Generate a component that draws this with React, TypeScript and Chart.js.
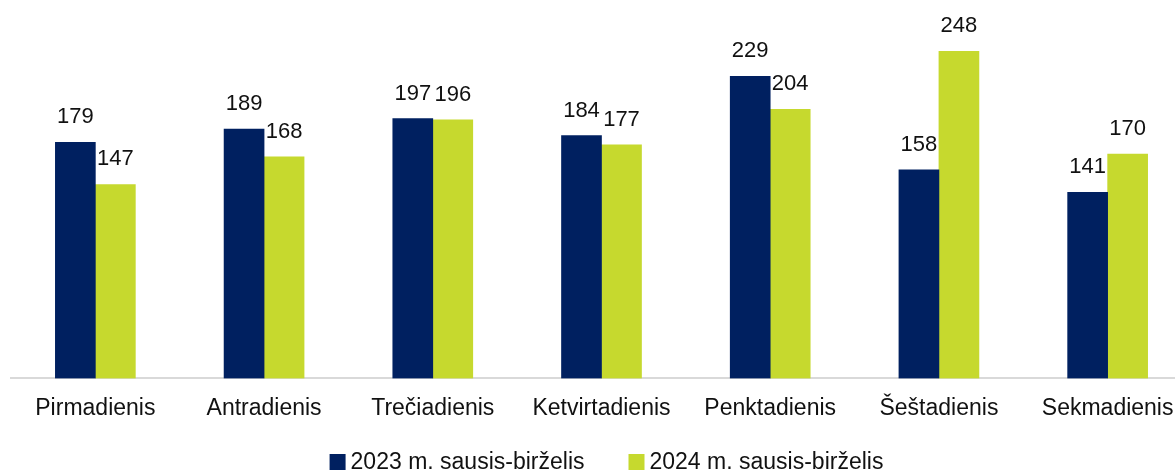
import React, { useEffect, useRef } from "react";
import { Chart, registerables } from "chart.js";

Chart.register(...registerables);

const categories = ["Pirmadienis", "Antradienis", "Trečiadienis", "Ketvirtadienis", "Penktadienis", "Šeštadienis", "Sekmadienis"];
const series2023 = [179, 189, 197, 184, 229, 158, 141];
const series2024 = [147, 168, 196, 177, 204, 248, 170];
const seriesNames = ["2023 m. sausis-birželis", "2024 m. sausis-birželis"];
const seriesColors = ["#002060", "#C6D92E"];

const FONT = "'Liberation Sans', Arial, sans-serif";

const valueLabels = {
  id: "valueLabels",
  afterDatasetsDraw(chart: any) {
    const ctx = chart.ctx;
    ctx.save();
    ctx.font = `22px ${FONT}`;
    ctx.fillStyle = "#111111";
    ctx.textAlign = "center";
    ctx.textBaseline = "alphabetic";
    chart.data.datasets.forEach((ds: any, di: number) => {
      const meta = chart.getDatasetMeta(di);
      meta.data.forEach((bar: any, i: number) => {
        ctx.fillText(String(ds.data[i]), bar.x, bar.y - 19);
      });
    });
    ctx.restore();
  },
};

const bottomLegend = {
  id: "bottomLegend",
  afterDraw(chart: any) {
    const ctx = chart.ctx;
    const box = 16;
    const gap = 5;
    const itemGap = 44;
    ctx.save();
    ctx.font = `23px ${FONT}`;
    const items = chart.data.datasets.map((ds: any) => ({
      label: ds.label,
      color: ds.backgroundColor,
      w: ctx.measureText(ds.label).width,
    }));
    const total = items.reduce((s: number, it: any) => s + box + gap + it.w, 0) + itemGap * (items.length - 1);
    const cx = (chart.chartArea.left + chart.chartArea.right) / 2 + 5;
    const cy = chart.height - 10;
    let x = cx - total / 2;
    ctx.textBaseline = "middle";
    ctx.textAlign = "left";
    items.forEach((it: any) => {
      ctx.fillStyle = it.color;
      ctx.fillRect(x, cy - box / 2, box, box);
      ctx.fillStyle = "#111111";
      ctx.fillText(it.label, x + box + gap, cy + 1);
      x += box + gap + it.w + itemGap;
    });
    ctx.restore();
  },
};

export default function App() {
  const ref = useRef<HTMLCanvasElement | null>(null);
  useEffect(() => {
    if (!ref.current) return;
    const chart = new Chart(ref.current, {
      type: "bar",
      data: {
        labels: categories,
        datasets: [
          { label: seriesNames[0], data: series2023, backgroundColor: seriesColors[0], barThickness: 40 },
          { label: seriesNames[1], data: series2024, backgroundColor: seriesColors[1], barThickness: 40 },
        ],
      },
      options: {
        animation: false,
        responsive: false,
        maintainAspectRatio: false,
        layout: { padding: { left: 11, right: 3, top: 9, bottom: 34 } },
        plugins: {
          legend: { display: false },
          tooltip: { enabled: false },
        },
        scales: {
          x: {
            grid: { display: false, drawTicks: false },
            border: { display: true, color: "#D9D9D9", width: 2 },
            ticks: { color: "#111111", font: { family: FONT, size: 23 }, padding: 16, maxRotation: 0 },
          },
          y: {
            display: false,
            min: 0,
            max: 280,
          },
        },
      },
      plugins: [valueLabels, bottomLegend],
    });
    return () => chart.destroy();
  }, []);
  return (
    <div style={{ position: "absolute", left: 0, top: 0, width: 1175, height: 472, overflow: "hidden", background: "#fff" }}>
      <canvas ref={ref} width={1195} height={472} style={{ width: 1195, height: 472, display: "block" }} />
    </div>
  );
}
